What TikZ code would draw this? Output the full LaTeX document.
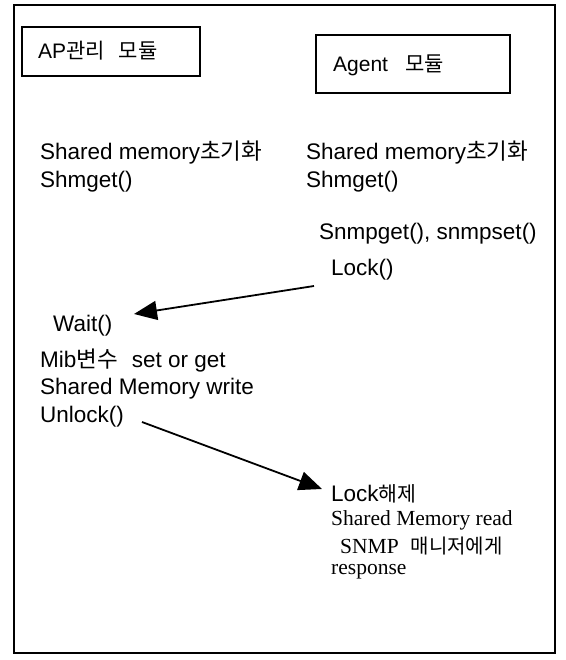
\documentclass[tikz,border=0pt]{standalone}
\usepackage{fontspec}
\setmainfont{Liberation Sans}
\newfontfamily\kr{Noto Sans CJK KR}
\newfontfamily\tms{Liberation Serif}
\usetikzlibrary{arrows.meta}
\begin{document}
\begin{tikzpicture}[x=1pt,y=-1pt,
  txt/.style={anchor=west,inner sep=0pt,font=\fontsize{22.5}{24}\selectfont},
  btxt/.style={anchor=west,inner sep=0pt,font=\fontsize{21}{24}\selectfont},
  stxt/.style={anchor=west,inner sep=0pt,font=\tms\fontsize{21.5}{24}\selectfont},
  frame/.style={draw,line width=1.6pt},
  arr/.style={line width=1.8pt,-{Triangle[length=23pt,width=19pt]}}]
\useasboundingbox (0,0) rectangle (565,660);
\draw[frame] (14,5) rectangle (555,653);
\draw[frame] (22,27) rectangle (200,76);
\draw[frame] (316,35) rectangle (510,93);
\node[btxt] (ap) at (38,51) {AP{\kr 관리}\hspace{14pt}{\kr 모듈}};
\node[btxt] (ag) at (333,65) {Agent\hspace{17pt}{\kr 모듈}};
\node[txt] (l1) at (40,153) {Shared memory{\kr 초기화}};
\node[txt] (l2) at (40,182) {Shmget()};
\node[txt] (r1) at (306,153) {Shared memory{\kr 초기화}};
\node[txt] (r2) at (306,182) {Shmget()};
\node[txt] (snmp) at (319,234) {Snmpget(), snmpset()};
\node[txt] (lock) at (331,270) {Lock()};
\node[txt] (wait) at (53,326) {Wait()};
\node[txt] (mib) at (40,361) {Mib{\kr 변수}\hspace{14pt}set or get};
\node[txt] (smw) at (40,389) {Shared Memory write};
\node[txt] (unl) at (40,417) {Unlock()};
\node[txt] (lr) at (331,494) {Lock{\kr\fontsize{20.5}{22}\selectfont 해제}};
\node[stxt] (smr) at (331,520) {Shared Memory read};
\node[stxt] (mgr) at (340,546) {SNMP\hspace{12pt}{\kr\fontsize{20}{24}\selectfont 매니저에게}};
\node[stxt] (resp) at (331,572) {response};
\coordinate (a1s) at (314,286);
\coordinate (a1e) at (134,314);
\coordinate (a2s) at (142,422);
\coordinate (a2e) at (322,489);
\draw[arr] (a1s) -- (a1e);
\draw[arr] (a2s) -- (a2e);
\end{tikzpicture}
\end{document}
